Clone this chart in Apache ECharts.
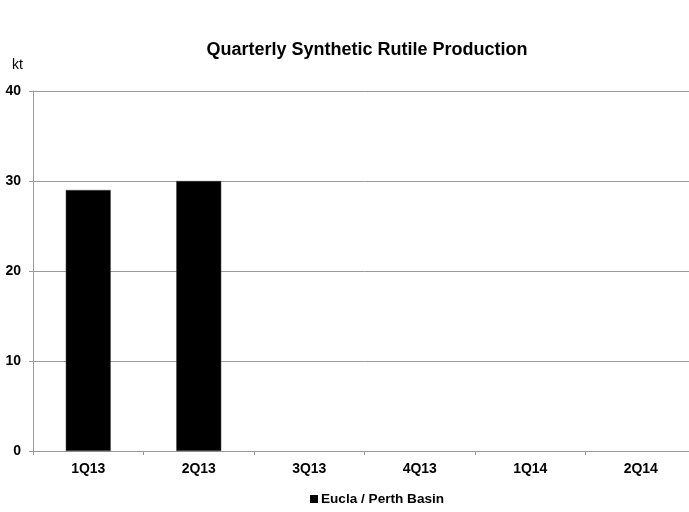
<!DOCTYPE html>
<html><head><meta charset="utf-8">
<script src="https://cdn.jsdelivr.net/npm/echarts@6/dist/echarts.min.js"></script>
<style>html,body{margin:0;padding:0;background:#fff;overflow:hidden}#c{width:700px;height:512px}</style>
</head><body><div id="c"></div>
<script>
const categories = ['1Q13','2Q13','3Q13','4Q13','1Q14','2Q14'];
const euclaPerth = [29, 30, null, null, null, null];
const yTicks = [0, 10, 20, 30, 40];
const font = '"Liberation Sans", Arial, sans-serif';
const chart = echarts.init(document.getElementById('c'));
chart.setOption({
  animation: false,
  backgroundColor: '#fff',
  title: { text: 'Quarterly Synthetic Rutile Production', left: 362, top: 36, textAlign: 'center',
    textStyle: { fontFamily: font, fontSize: 18, fontWeight: 'bold', color: '#000' } },
  graphic: [{ type: 'text', left: 12, top: 58, style: { text: 'kt', font: '14px ' + font, fill: '#000' } }],
  legend: { bottom: 1, left: 305, itemWidth: 8, itemHeight: 8, itemGap: 4, icon: 'rect',
    itemStyle: { color: '#000', borderWidth: 0 },
    textStyle: { fontFamily: font, fontSize: 13.6, fontWeight: 'bold', color: '#000', padding: [0,0,0,-2] },
    data: ['Eucla / Perth Basin'] },
  grid: { left: 33, right: 4, top: 91, height: 360 },
  xAxis: { type: 'category', data: categories,
    axisLine: { lineStyle: { color: '#999' } },
    axisTick: { show: true, length: 4, lineStyle: { color: '#999' } },
    axisLabel: { fontFamily: font, fontSize: 14, fontWeight: 'bold', color: '#000', margin: 11 } },
  yAxis: { type: 'value', min: yTicks[0], max: yTicks[yTicks.length-1], interval: 10,
    axisLine: { show: true, lineStyle: { color: '#999' } },
    axisTick: { show: true, length: 4, lineStyle: { color: '#999' } },
    axisLabel: { fontFamily: font, fontSize: 14, fontWeight: 'bold', color: '#000', margin: 12 },
    splitLine: { lineStyle: { color: '#999', width: 1 } } },
  series: [{ name: 'Eucla / Perth Basin', type: 'bar', data: euclaPerth, barWidth: '40.7%',
    itemStyle: { color: '#000', borderColor: '#444', borderWidth: 0.5 } }]
});
</script></body></html>
